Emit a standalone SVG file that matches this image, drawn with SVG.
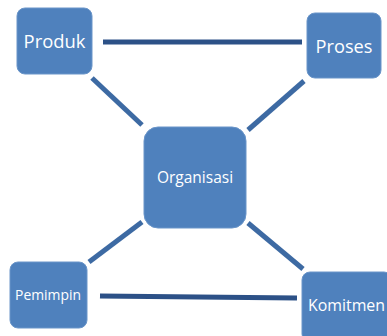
<svg xmlns="http://www.w3.org/2000/svg" width="387" height="336" viewBox="0 0 387 336">
<style>
.box{fill:#4f81bd;stroke:#6a95c9;stroke-width:1}
.t{fill:#ffffff;font-family:"Open Sans","Noto Sans",sans-serif;text-anchor:middle}
.h{stroke:#2c5187;stroke-width:5;fill:none}
.d{stroke:#3d6aa3;stroke-width:5;fill:none}
</style>
<rect width="387" height="336" fill="#ffffff"/>
<g id="connectors">
<line class="h" x1="103" y1="42" x2="302" y2="42"/>
<line class="h" x1="100" y1="296" x2="297" y2="298"/>
<line class="d" x1="92" y1="78" x2="142" y2="125"/>
<line class="d" x1="304" y1="81" x2="248" y2="130"/>
<line class="d" x1="142" y1="222" x2="89" y2="262"/>
<line class="d" x1="248" y1="223" x2="303" y2="269"/>
</g>
<g id="produk">
<rect class="box" x="17" y="8" width="75" height="66" rx="8"/>
<text class="t" x="54.5" y="48" font-size="18.4">Produk</text>
</g>
<g id="proses">
<rect class="box" x="307" y="13" width="74" height="65" rx="8"/>
<text class="t" x="344" y="53" font-size="18.2">Proses</text>
</g>
<g id="organisasi">
<rect class="box" x="144" y="127" width="102" height="101" rx="14"/>
<text class="t" x="195" y="183" font-size="15.5">Organisasi</text>
</g>
<g id="pemimpin">
<rect class="box" x="10" y="262" width="77" height="66" rx="8"/>
<text class="t" x="48" y="300" font-size="13.9">Pemimpin</text>
</g>
<g id="komitmen">
<rect class="box" x="302" y="272" width="90" height="70" rx="8"/>
<text class="t" x="346.5" y="310.5" font-size="15.9">Komitmen</text>
</g>
</svg>
